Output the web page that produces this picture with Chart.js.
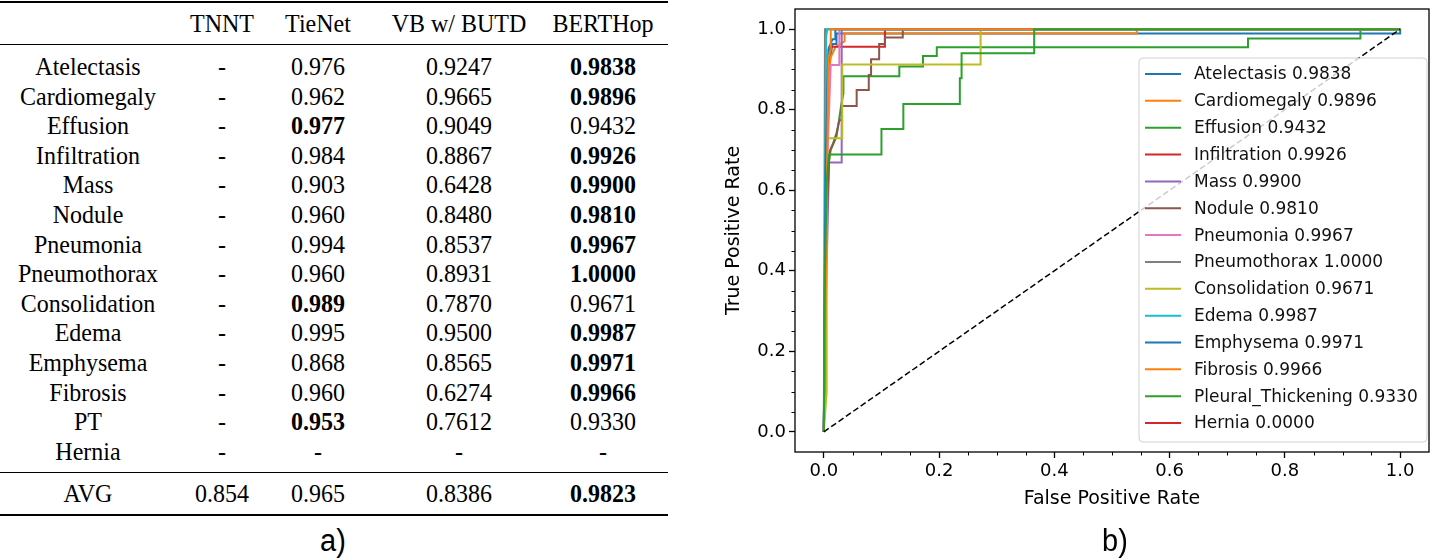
<!DOCTYPE html>
<html>
<head>
<meta charset="utf-8">
<script src="https://cdn.jsdelivr.net/npm/chart.js@4.4.1/dist/chart.umd.min.js"></script>
<style>
  html, body { margin: 0; padding: 0; background: #fff; }
  body { width: 1439px; height: 559px; position: relative; overflow: hidden; }
  #tabla { position: absolute; left: 0; top: 0; width: 690px; height: 559px;
           font-family: 'Liberation Serif', 'Times New Roman', serif; font-size: 24px; color: #000; }
  .celda { position: absolute; transform: translate(-50%, -50%) scaleY(1.08); white-space: nowrap; line-height: 1; }
  .regla { position: absolute; left: 0; width: 668px; background: #000; }
  .sub { position: absolute; transform: translate(-50%, -50%) scaleY(1.1); line-height: 1;
         font-family: 'Liberation Sans Narrow', 'Liberation Sans', sans-serif; font-size: 29px; color: #000; }
  #grafica { position: absolute; left: 700px; top: 0; }
</style>
</head>
<body>
<div id="tabla"></div>
<canvas id="grafica" width="739" height="559"></canvas>
<div class="sub" style="left:333px; top:541px;">a)</div>
<div class="sub" style="left:1115px; top:541px;">b)</div>

<script>
// ---- datos de la tabla ----
const columnas = ['TNNT', 'TieNet', 'VB w/ BUTD', 'BERTHop'];
const filas = ['Atelectasis', 'Cardiomegaly', 'Effusion', 'Infiltration', 'Mass', 'Nodule', 'Pneumonia',
               'Pneumothorax', 'Consolidation', 'Edema', 'Emphysema', 'Fibrosis', 'PT', 'Hernia'];
const tnnt = ['-', '-', '-', '-', '-', '-', '-', '-', '-', '-', '-', '-', '-', '-'];
const tieNet = ['0.976', '0.962', '0.977', '0.984', '0.903', '0.960', '0.994', '0.960', '0.989', '0.995', '0.868', '0.960', '0.953', '-'];
const vbButd = ['0.9247', '0.9665', '0.9049', '0.8867', '0.6428', '0.8480', '0.8537', '0.8931', '0.7870', '0.9500', '0.8565', '0.6274', '0.7612', '-'];
const berthop = ['0.9838', '0.9896', '0.9432', '0.9926', '0.9900', '0.9810', '0.9967', '1.0000', '0.9671', '0.9987', '0.9971', '0.9966', '0.9330', '-'];
const promedio = ['0.854', '0.965', '0.8386', '0.9823'];

// ---- datos de la curva ROC ----
const clases = ['Atelectasis', 'Cardiomegaly', 'Effusion', 'Infiltration', 'Mass', 'Nodule', 'Pneumonia',
                'Pneumothorax', 'Consolidation', 'Edema', 'Emphysema', 'Fibrosis', 'Pleural_Thickening', 'Hernia'];
const aucs = ['0.9838', '0.9896', '0.9432', '0.9926', '0.9900', '0.9810', '0.9967',
              '1.0000', '0.9671', '0.9987', '0.9971', '0.9966', '0.9330', '0.0000'];
const tickVals = [0, 0.2, 0.4, 0.6, 0.8, 1.0];

const atelectasisFpr = [0, 0.004, 0.008, 0.015, 0.022, 0.022, 1.0, 1.0];
const atelectasisTpr = [0, 0.62, 0.90, 0.963, 0.963, 0.989, 0.989, 1.0];
const cardiomegalyFpr = [0, 0.004, 0.008, 0.012, 0.020, 0.036, 0.036, 0.543, 0.543, 1.0];
const cardiomegalyTpr = [0, 0.55, 0.88, 0.93, 0.955, 0.97, 0.989, 0.989, 1.0, 1.0];
const effusionFpr = [0, 0.003, 0.012, 0.022, 0.026, 0.030, 0.034, 0.034, 0.131, 0.131, 0.172, 0.172, 0.196, 0.196, 0.736, 0.736, 0.931, 0.931, 1.0];
const effusionTpr = [0, 0.62, 0.70, 0.733, 0.77, 0.81, 0.84, 0.883, 0.883, 0.907, 0.907, 0.933, 0.933, 0.955, 0.955, 0.977, 0.977, 1.0, 1.0];
const infiltrationFpr = [0, 0.003, 0.006, 0.010, 0.106, 0.106, 1.0];
const infiltrationTpr = [0, 0.55, 0.90, 0.956, 0.956, 1.0, 1.0];
const massFpr = [0, 0.004, 0.009, 0.031, 0.031, 1.0];
const massTpr = [0, 0.35, 0.669, 0.669, 1.0, 1.0];
const noduleFpr = [0, 0.004, 0.010, 0.016, 0.022, 0.027, 0.031, 0.031, 0.057, 0.057, 0.078, 0.078, 0.082, 0.082, 0.096, 0.096, 0.106, 0.106, 0.137, 0.137, 1.0];
const noduleTpr = [0, 0.50, 0.696, 0.716, 0.742, 0.774, 0.774, 0.809, 0.809, 0.849, 0.849, 0.886, 0.886, 0.925, 0.925, 0.963, 0.963, 0.979, 0.979, 1.0, 1.0];
const pneumoniaFpr = [0, 0.004, 0.012, 0.027, 0.027, 1.0];
const pneumoniaTpr = [0, 0.60, 0.911, 0.911, 1.0, 1.0];
const pneumothoraxFpr = [0, 0.002, 1.0];
const pneumothoraxTpr = [0, 1.0, 1.0];
const consolidationFpr = [0, 0.005, 0.005, 0.032, 0.032, 0.272, 0.272, 1.0];
const consolidationTpr = [0, 0.10, 0.729, 0.729, 0.912, 0.912, 1.0, 1.0];
const edemaFpr = [0, 0.002, 0.004, 0.006, 1.0];
const edemaTpr = [0, 0.55, 0.98, 1.0, 1.0];
const emphysemaFpr = [0, 0.003, 0.008, 0.015, 0.020, 0.020, 1.0];
const emphysemaTpr = [0, 0.65, 0.95, 0.975, 0.975, 1.0, 1.0];
const fibrosisFpr = [0, 0.004, 0.008, 0.012, 0.012, 1.0];
const fibrosisTpr = [0, 0.45, 0.93, 0.95, 1.0, 1.0];
const ptFpr = [0, 0.002, 0.005, 0.009, 0.100, 0.100, 0.138, 0.138, 0.236, 0.236, 0.239, 0.239, 0.365, 0.365, 1.0];
const ptTpr = [0, 0.40, 0.62, 0.689, 0.689, 0.752, 0.752, 0.814, 0.814, 0.878, 0.878, 0.940, 0.940, 1.0, 1.0];
const herniaFpr = [];
const herniaTpr = [];
const diagFpr = [0, 1];
const diagTpr = [0, 1];

const curvas = [
  [atelectasisFpr, atelectasisTpr], [cardiomegalyFpr, cardiomegalyTpr], [effusionFpr, effusionTpr],
  [infiltrationFpr, infiltrationTpr], [massFpr, massTpr], [noduleFpr, noduleTpr], [pneumoniaFpr, pneumoniaTpr],
  [pneumothoraxFpr, pneumothoraxTpr], [consolidationFpr, consolidationTpr], [edemaFpr, edemaTpr],
  [emphysemaFpr, emphysemaTpr], [fibrosisFpr, fibrosisTpr], [ptFpr, ptTpr], [herniaFpr, herniaTpr]
];

const colores = ['#1f77b4', '#ff7f0e', '#2ca02c', '#d62728', '#9467bd', '#8c564b', '#e377c2',
                 '#7f7f7f', '#bcbd22', '#17becf', '#1f77b4', '#ff7f0e', '#2ca02c', '#d62728'];
const fuente = "'DejaVu Sans', sans-serif";

// ---- tabla ----
function dibujarTabla() {
  const t = document.getElementById('tabla');
  const xs = [88, 222, 318, 459, 603];
  function celda(texto, x, y, negrita) {
    const d = document.createElement('div');
    d.className = 'celda';
    d.style.left = x + 'px';
    d.style.top = y + 'px';
    if (negrita) d.style.fontWeight = 'bold';
    d.textContent = texto;
    t.appendChild(d);
  }
  function regla(y, h) {
    const d = document.createElement('div');
    d.className = 'regla';
    d.style.top = y + 'px';
    d.style.height = h + 'px';
    t.appendChild(d);
  }
  regla(0.5, 2.4);
  columnas.forEach((c, i) => celda(c, xs[i + 1], 23, false));
  regla(43.5, 1.2);
  filas.forEach((f, i) => {
    const y = 66 + i * 29.6;
    const vals = [tnnt[i], tieNet[i], vbButd[i], berthop[i]];
    const nums = vals.map(v => v === '-' ? -1 : parseFloat(v));
    const mejor = Math.max(...nums);
    celda(f, xs[0], y, false);
    vals.forEach((v, j) => celda(v, xs[j + 1], y, v !== '-' && nums[j] === mejor));
  });
  regla(471.5, 1.2);
  celda('AVG', xs[0], 493, false);
  const pn = promedio.map(parseFloat);
  promedio.forEach((v, j) => celda(v, xs[j + 1], 493, pn[j] === Math.max(...pn)));
  regla(514, 2.4);
}
dibujarTabla();

// ---- grafica ----
const marcoPlugin = {
  id: 'marco',
  afterDatasetsDraw(chart) {
    const { ctx, chartArea: a, scales: { x, y } } = chart;
    ctx.save();
    ctx.strokeStyle = '#000';
    ctx.lineWidth = 1.3;
    ctx.strokeRect(a.left, a.top, a.right - a.left, a.bottom - a.top);
    // ticks menores cada 0.05
    ctx.lineWidth = 1;
    for (let k = 1; k < 20; k++) {
      if (k % 4 === 0) continue;
      const v = k * 0.05;
      const px = Math.round(x.getPixelForValue(v)) + 0.5;
      ctx.beginPath(); ctx.moveTo(px, a.bottom); ctx.lineTo(px, a.bottom + 3.5); ctx.stroke();
      const py = Math.round(y.getPixelForValue(v)) + 0.5;
      ctx.beginPath(); ctx.moveTo(a.left - 3.5, py); ctx.lineTo(a.left, py); ctx.stroke();
    }
    ctx.restore();
  },
  afterDraw(chart) {
    const { ctx, chartArea: a } = chart;
    const bx = a.right - 290, by = a.top + 49, bw = 288, bh = 384;
    ctx.save();
    ctx.beginPath();
    if (ctx.roundRect) ctx.roundRect(bx, by, bw, bh, 4); else ctx.rect(bx, by, bw, bh);
    ctx.fillStyle = 'rgba(255,255,255,0.8)';
    ctx.fill();
    ctx.strokeStyle = 'rgba(204,204,204,0.9)';
    ctx.lineWidth = 1;
    ctx.stroke();
    ctx.font = '17px ' + fuente;
    ctx.textBaseline = 'middle';
    ctx.fillStyle = '#111';
    clases.forEach((c, i) => {
      const yy = by + 16 + i * 26.85;
      ctx.strokeStyle = colores[i];
      ctx.lineWidth = 2;
      ctx.beginPath(); ctx.moveTo(bx + 6, yy); ctx.lineTo(bx + 42, yy); ctx.stroke();
      ctx.fillText(c + ' ' + aucs[i], bx + 55, yy + 1);
    });
    ctx.restore();
  }
};

function inicializarGrafica() {
  const ctx = document.getElementById('grafica').getContext('2d');
  const datasets = curvas.map((cv, i) => ({
    label: clases[i] + ' ' + aucs[i],
    data: cv[0].map((fx, k) => ({ x: fx, y: cv[1][k] })),
    borderColor: colores[i],
    borderWidth: 2,
    pointRadius: 0,
    fill: false,
    tension: 0,
    order: -i
  }));
  datasets.push({
    label: '',
    data: diagFpr.map((fx, k) => ({ x: fx, y: diagTpr[k] })),
    borderColor: '#000',
    borderWidth: 1.5,
    borderDash: [6, 3],
    pointRadius: 0,
    fill: false,
    order: -20
  });

  const eje = (titulo, pad) => ({
    type: 'linear',
    min: -0.05,
    max: 1.05,
    afterBuildTicks: s => { s.ticks = tickVals.map(v => ({ value: v })); },
    grid: { drawOnChartArea: false, tickLength: 6, tickWidth: 1.3, tickColor: '#000' },
    border: { display: false },
    ticks: { font: { family: fuente, size: 18 }, color: '#000', padding: 3, autoSkip: false, maxRotation: 0,
             callback: v => Number(v).toFixed(1) },
    title: { display: true, text: titulo, color: '#000', font: { family: fuente, size: 19 }, padding: pad }
  });

  const ejeX = eje('False Positive Rate', { top: 0, bottom: 49 });
  ejeX.afterFit = s => { s.height = 107; s.paddingLeft = 0; s.paddingRight = 0; };
  const ejeY = eje('True Positive Rate', { top: 23, bottom: 0 });
  ejeY.afterFit = s => { s.width = 95; s.paddingTop = 0; s.paddingBottom = 0; };

  new Chart(ctx, {
    type: 'line',
    data: { datasets: datasets },
    options: {
      responsive: false,
      animation: false,
      layout: { padding: { top: 9, right: 10, left: 0, bottom: 0 } },
      plugins: { legend: { display: false }, tooltip: { enabled: false } },
      scales: { x: ejeX, y: ejeY }
    },
    plugins: [marcoPlugin]
  });
}

inicializarGrafica();
</script>
</body>
</html>
